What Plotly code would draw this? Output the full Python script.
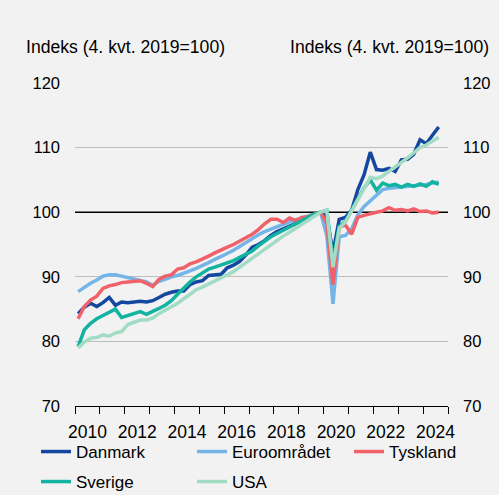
import plotly.graph_objects as go

# Quarterly data 2010Q1 - 2024Q3, index 4th quarter 2019 = 100
years = list(range(2010, 2025))
quarters = [f"{y}K{q}" for y in years for q in range(1, 5)][:59]

danmark = [
    84.3, 85.3, 85.9, 85.4,
    86.0, 86.8, 85.6, 86.1,
    86.0, 86.1, 86.2, 86.1,
    86.3, 86.8, 87.3, 87.6,
    87.8, 87.8, 88.8, 89.2,
    89.4, 90.2, 90.3, 90.4,
    91.4, 91.8, 92.4, 93.4,
    94.6, 95.0, 95.6, 96.4,
    97.0, 97.4, 97.8, 98.2,
    98.7, 99.0, 99.5, 100.0,
    99.3, 93.7, 98.9, 99.2,
    100.3, 103.5, 105.8, 109.3,
    106.6, 106.5, 106.8, 106.3,
    108.1, 108.2, 109.0, 111.2,
    110.6, 111.9, 113.2,
]
euroomraadet = [
    87.7, 88.4, 89.0, 89.5,
    90.1, 90.3, 90.3, 90.1,
    89.9, 89.7, 89.4, 89.2,
    88.7, 89.3, 89.6, 90.0,
    90.2, 90.5, 90.9, 91.3,
    91.7, 92.2, 92.7, 93.1,
    93.6, 94.1, 94.7, 95.4,
    96.0, 96.5, 97.0, 97.4,
    97.7, 98.1, 98.5, 98.8,
    99.1, 99.4, 99.7, 100.0,
    96.4, 85.8, 96.2, 96.4,
    97.4, 99.6, 100.9, 101.8,
    102.7, 103.5, 103.7, 103.8,
    103.8, 103.9, 104.0, 104.2,
    104.3, 104.5, 104.7,
]
tyskland = [
    83.5, 85.4, 86.4, 87.0,
    88.2, 88.6, 88.8, 89.1,
    89.2, 89.3, 89.4, 89.0,
    88.5, 89.6, 90.1, 90.3,
    91.2, 91.4, 92.0, 92.3,
    92.7, 93.2, 93.7, 94.2,
    94.6, 95.0, 95.5, 96.0,
    96.6, 97.3, 98.2, 98.9,
    98.9, 98.4, 99.1, 98.7,
    99.2, 99.3, 99.7, 100.0,
    98.3, 88.8, 97.7, 98.0,
    96.6, 99.2, 99.5, 99.8,
    100.0, 100.2, 100.7, 100.3,
    100.4, 100.2, 100.5, 100.1,
    100.2, 99.9, 100.0,
]
sverige = [
    79.2, 81.8, 82.8, 83.5,
    84.0, 84.5, 85.0, 83.7,
    84.0, 84.3, 84.6, 84.2,
    84.6, 85.1, 85.6, 86.3,
    87.3, 88.3, 89.2, 90.0,
    90.6, 91.2, 91.5, 91.8,
    92.1, 92.5, 93.0, 93.5,
    94.0, 94.8, 95.5, 96.2,
    96.7, 97.2, 97.7, 98.2,
    98.7, 99.2, 99.7, 100.0,
    100.3, 92.5, 97.8, 98.6,
    100.4, 102.1, 103.8, 105.0,
    103.4, 104.5, 104.1, 104.3,
    103.9, 104.3, 104.0, 104.4,
    104.0, 104.7, 104.3,
]
usa = [
    79.0, 79.9, 80.5, 80.6,
    81.0, 80.8, 81.3, 81.5,
    82.6, 83.0, 83.3, 83.3,
    83.6, 84.3, 84.8, 85.4,
    85.9, 86.6, 87.3, 88.0,
    88.4, 88.9, 89.4, 89.9,
    90.3, 90.8, 91.5, 92.2,
    92.9, 93.6, 94.3, 95.0,
    95.7, 96.3, 96.9, 97.5,
    98.1, 98.7, 99.3, 100.0,
    100.3, 91.5, 97.5, 98.5,
    100.2, 102.0, 103.6, 105.4,
    105.2, 105.6, 106.3, 107.0,
    107.6, 108.4, 109.2, 110.0,
    110.4, 111.0, 111.6,
]

series_names = ["Danmark", "Euroområdet", "Tyskland", "Sverige", "USA"]
series_values = [danmark, euroomraadet, tyskland, sverige, usa]
colors = ["#1448a0", "#74b4e6", "#f0616a", "#12b3a0", "#a3dcc5"]

y_ticks = [70, 80, 90, 100, 110, 120]
x_label_years = [2010, 2012, 2014, 2016, 2018, 2020, 2022, 2024]
axis_title = "Indeks (4. kvt. 2019=100)"

# quarter centre position on a continuous year axis
def qpos(label):
    y, q = label.split("K")
    return int(y) + (int(q) - 0.5) / 4

xq = [qpos(q) for q in quarters]

FONT = "Arial, 'Liberation Sans', sans-serif"
W, H = 499, 495
ML, MR, MT, MB = 75, 51, 83, 89
PW, PH = W - ML - MR, H - MT - MB

def px_to_paper_x(px):
    return (px - ML) / PW

def px_to_paper_y(py):
    return (H - MB - py) / PH

fig = go.Figure()

legend_slots = {
    "Danmark": ("legend", 41, 452),
    "Euroområdet": ("legend2", 197, 452),
    "Tyskland": ("legend3", 354, 452),
    "Sverige": ("legend4", 41, 482),
    "USA": ("legend5", 197, 482),
}

for name, vals, col in zip(series_names, series_values, colors):
    fig.add_trace(go.Scatter(
        x=xq, y=vals, name=name, mode="lines",
        line=dict(color=col, width=3.5),
        legend=legend_slots[name][0],
        yaxis="y2" if name == "USA" else "y",
        hovertemplate="%{y:.1f}<extra>" + name + "</extra>",
    ))

layout_legends = {}
for name, (lk, px, py) in legend_slots.items():
    layout_legends[lk] = dict(
        x=px_to_paper_x(px - 5), y=px_to_paper_y(py),
        xanchor="left", yanchor="middle",
        bgcolor="rgba(0,0,0,0)", borderwidth=0,
        font=dict(family=FONT, size=17, color="#000"),
        orientation="h",
    )

fig.update_layout(
    width=W, height=H,
    margin=dict(l=ML, r=MR, t=MT, b=MB, autoexpand=False),
    paper_bgcolor="#f2f2f2", plot_bgcolor="#f2f2f2",
    font=dict(family=FONT, size=16, color="#000"),
    showlegend=True,
    **layout_legends,
    xaxis=dict(
        range=[2010, 2025],
        tickvals=[y + 0.5 for y in x_label_years],
        ticktext=[str(y) for y in x_label_years],
        ticks="", showgrid=False, zeroline=False,
        showline=True, linecolor="#000", linewidth=1.3,
        tickfont=dict(size=17.5),
        ticklabelstandoff=10,
        minor=dict(tickvals=list(range(2010, 2026)), ticks="outside",
                   ticklen=7, tickcolor="#000", tickwidth=1.3, showgrid=False),
        fixedrange=True,
    ),
    yaxis=dict(
        range=[70, 120], tickvals=y_ticks,
        showgrid=True, gridcolor="#bdbdbd", gridwidth=1,
        zeroline=False, showline=False, ticks="",
        ticklabelstandoff=14, tickfont=dict(size=16.5),
        fixedrange=True,
    ),
    yaxis2=dict(
        range=[70, 120], tickvals=y_ticks, overlaying="y", side="right",
        showgrid=False, zeroline=False, showline=False, ticks="",
        ticklabelstandoff=14, tickfont=dict(size=16.5),
        fixedrange=True,
    ),
    shapes=[dict(type="line", xref="x", yref="y", x0=2010, x1=2025, y0=100, y1=100,
                 line=dict(color="#000", width=1.4), layer="between")],
    annotations=[
        dict(text=axis_title, xref="paper", yref="paper",
             x=px_to_paper_x(24), y=px_to_paper_y(47), xanchor="left", yanchor="middle",
             showarrow=False, font=dict(size=17.6)),
        dict(text=axis_title, xref="paper", yref="paper",
             x=px_to_paper_x(491), y=px_to_paper_y(47), xanchor="right", yanchor="middle",
             showarrow=False, font=dict(size=17.6)),
    ],
)

fig.write_html(
    "out.html",
    config={"displayModeBar": False},
    post_script="document.body.style.margin='0';document.body.style.padding='0';",
)
